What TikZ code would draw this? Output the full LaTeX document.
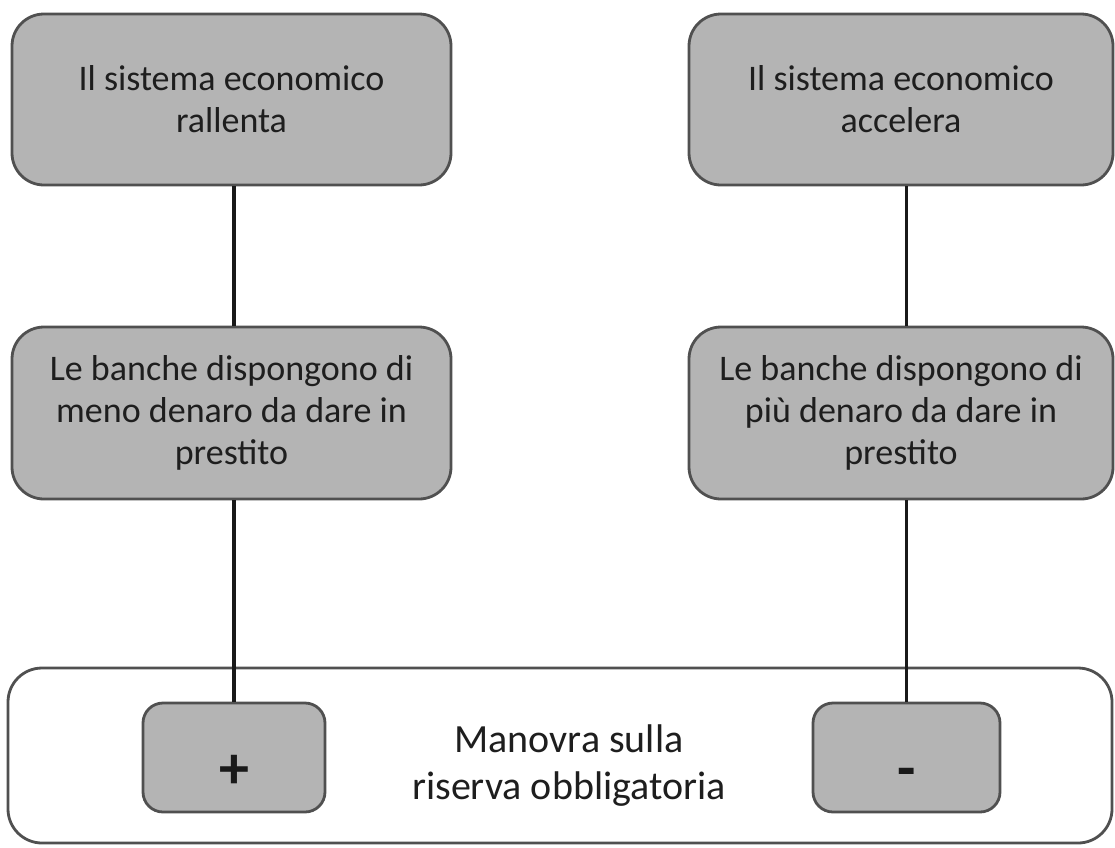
\documentclass[tikz,border=0pt]{standalone}
\usepackage{fontspec}
\setmainfont{Carlito}
\definecolor{boxgray}{RGB}{180,180,180}
\definecolor{edgegray}{RGB}{80,80,80}
\definecolor{txt}{RGB}{30,30,30}
\begin{document}
\begin{tikzpicture}[x=1pt,y=-1pt,
  graybox/.style={draw=edgegray,line width=2.8pt,fill=boxgray,rounded corners=32pt,
    align=center,text=txt,font=\fontsize{36}{42}\selectfont,inner sep=0pt},
  signbox/.style={graybox,rounded corners=20pt,minimum height=109pt},
  signtext/.style={anchor=base,inner sep=0pt,text=black!90,font=\fontsize{60}{60}\bfseries\selectfont},
  conn/.style={draw=black!90,line width=3.5pt}]
\useasboundingbox (0,0) rectangle (1115,847);
\node[graybox,minimum width=439pt,minimum height=171pt] (tl) at (231.5,99.5) {Il sistema economico\\rallenta};
\node[graybox,minimum width=424pt,minimum height=171pt] (tr) at (901,99.5) {Il sistema economico\\accelera};
\node[graybox,minimum width=439pt,minimum height=172pt] (ml) at (231.5,413) {Le banche dispongono di\\meno denaro da dare in\\prestito};
\node[graybox,minimum width=424pt,minimum height=172pt] (mr) at (901,413) {Le banche dispongono di\\più denaro da dare in\\prestito};
\node[draw=edgegray,line width=2.8pt,fill=white,rounded corners=34pt,minimum width=1104pt,minimum height=175pt,inner sep=0pt] (bot) at (560,755.5) {};
\node[align=center,text=txt,font=\fontsize{40}{47}\selectfont,inner sep=0pt] (lab) at (569,766) {Manovra sulla\\riserva obbligatoria};
\node[signbox,minimum width=182pt] (plus) at (234,757.5) {};
\node[signbox,minimum width=187pt] (minus) at (906.5,757.5) {};
\node[signtext] (plussign) at (234,788) {+};
\node[signtext] (minussign) at (906.5,788) {-};
\draw[conn] (tl.south -| plus.north) -- (ml.north -| plus.north);
\draw[conn] (ml.south -| plus.north) -- (plus.north);
\draw[conn] (tr.south -| minus.north) -- (mr.north -| minus.north);
\draw[conn] (mr.south -| minus.north) -- (minus.north);
\end{tikzpicture}
\end{document}
